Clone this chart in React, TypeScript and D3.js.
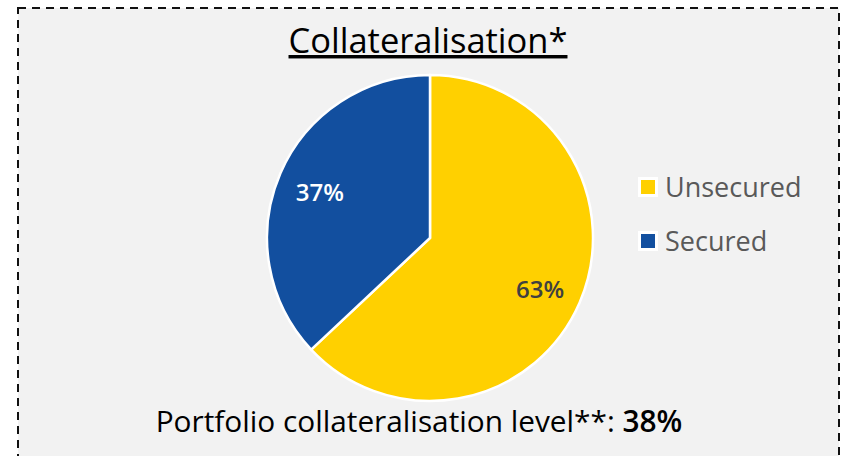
import React from "react";
import * as d3 from "d3";

const categories = ["Unsecured", "Secured"];
const values = [63, 37];
const colors = ["#ffd000", "#124f9f"];
const labelColors = ["#404040", "#ffffff"];
const title = "Collateralisation*";
const footnoteText = "Portfolio collateralisation level**: ";
const footnoteValue = "38%";

const W = 843;
const H = 456;
const FONT = "'Open Sans', 'Noto Sans', sans-serif";

export default function App() {
  const cx = 430;
  const cy = 238;
  const r = 163;
  const pie = d3.pie<number>().sort(null).value((d) => d)
    .startAngle(0).endAngle(2 * Math.PI);
  const arcs = pie(values);
  const arc = d3.arc<d3.PieArcDatum<number>>().innerRadius(0).outerRadius(r);
  const labelArc = d3.arc<d3.PieArcDatum<number>>().innerRadius(r * 0.75).outerRadius(r * 0.75);

  const legendY = d3.scalePoint<string>().domain(categories).range([187, 241]);

  return (
    <svg width={W} height={H} style={{ position: "absolute", left: 0, top: 0 }}>
      <rect x={0} y={0} width={W} height={H} fill="#ffffff" />
      <rect x={18} y={8} width={821} height={470} fill="#f2f2f2" stroke="#111" strokeWidth={2} strokeDasharray="8,6" />
      <text x={428} y={53} textAnchor="middle" fontFamily={FONT} fontSize={34.5} fill="#000" textDecoration="underline">
        {title}
      </text>
      <g transform={`translate(${cx},${cy})`}>
        {arcs.map((a, i) => (
          <path key={i} d={arc(a) || ""} fill={colors[i]} stroke="#fff" strokeWidth={2.5} />
        ))}
        {arcs.map((a, i) => {
          const [x, y] = labelArc.centroid(a);
          return (
            <text key={"l" + i} x={x + (i === 1 ? 2 : -2)} y={y + 3} dy="0.36em" textAnchor="middle" fontFamily={FONT} fontSize={24} fontWeight={600} fill={labelColors[i]}>
              {`${values[i]}%`}
            </text>
          );
        })}
      </g>
      {categories.map((c, i) => (
        <g key={c} transform={`translate(648,${legendY(c)})`}>
          <rect x={-8.5} y={-8.5} width={17} height={17} fill={colors[i]} stroke="#fff" strokeWidth={3} />
          <text x={17} y={0} dy="0.36em" fontFamily={FONT} fontSize={27} fill="#595959">{c}</text>
        </g>
      ))}
      <text x={419} y={432} textAnchor="middle" fontFamily={FONT} fontSize={29.8} fill="#000">
        {footnoteText}
        <tspan fontWeight={600}>{footnoteValue}</tspan>
      </text>
    </svg>
  );
}
